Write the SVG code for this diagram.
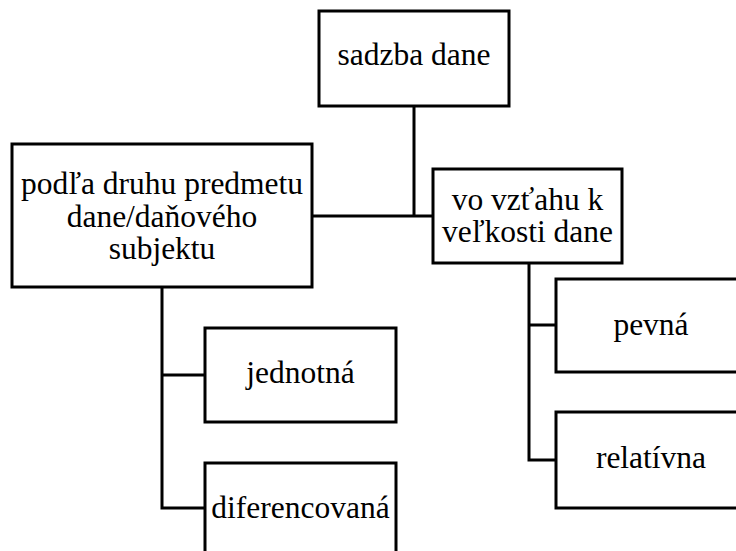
<svg xmlns="http://www.w3.org/2000/svg" width="736" height="551" viewBox="0 0 736 551">
<style>
.box{fill:#fff;stroke:#000;stroke-width:3}
.ln{fill:none;stroke:#000;stroke-width:3}
</style>
<rect width="736" height="551" fill="#fff"/>
<g id="connectors">
<path class="ln" d="M414,106 V216 M312,216 H433"/>
<path class="ln" d="M162,287 V508 H205 M162,375 H205"/>
<path class="ln" d="M529,263 V460 H556 M529,325 H556"/>
</g>
<g font-family="Liberation Serif, DejaVu Serif, serif" font-size="31.5" fill="#000" text-anchor="middle">
<g id="sadzba"><rect class="box" x="319" y="11" width="190" height="95"/><text x="414" y="65">sadzba dane</text></g>
<g id="podla"><rect class="box" x="12" y="144" width="300" height="143"/>
<text x="162" y="194">podľa druhu predmetu</text><text x="162" y="227">dane/daňového</text><text x="162" y="259">subjektu</text></g>
<g id="vztah"><rect class="box" x="433" y="169" width="189" height="94"/>
<text x="527.5" y="210">vo vzťahu k</text><text x="527.5" y="242">veľkosti dane</text></g>
<g id="jednotna"><rect class="box" x="205" y="328" width="191" height="94"/><text x="300.5" y="383">jednotná</text></g>
<g id="diferencovana"><rect class="box" x="205" y="463" width="191" height="100"/><text x="300.5" y="518">diferencovaná</text></g>
<g id="pevna"><rect class="box" x="556" y="279" width="190" height="93"/><text x="651" y="335">pevná</text></g>
<g id="relativna"><rect class="box" x="556" y="412" width="190" height="96"/><text x="651" y="468">relatívna</text></g>
</g>
</svg>
